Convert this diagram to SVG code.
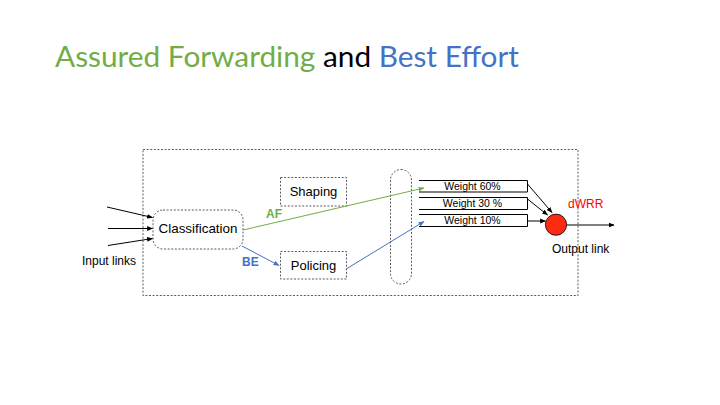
<svg xmlns="http://www.w3.org/2000/svg" width="720" height="405" viewBox="0 0 720 405">
  <style>
    .lbl { font-family: "Liberation Sans", Arial, sans-serif; fill: #000; }
    .dash { fill: #fff; stroke: #333; stroke-width: 0.8; stroke-dasharray: 2 1.6; }
    .wbox { fill: #fff; stroke: #000; stroke-width: 1; }
    .blk { stroke: #000; stroke-width: 1; fill: none; }
    .af { stroke: #70AD47; stroke-width: 1; fill: none; }
    .be { stroke: #4472C4; stroke-width: 1; fill: none; }
  </style>
  <defs>
    <marker id="ahBlack" viewBox="0 0 10 10" refX="9" refY="5" markerWidth="6" markerHeight="6" orient="auto" markerUnits="userSpaceOnUse">
      <path d="M0,1 L10,5 L0,9 Z" fill="#000"/>
    </marker>
    <marker id="ahGreen" viewBox="0 0 10 10" refX="9" refY="5" markerWidth="6" markerHeight="6" orient="auto" markerUnits="userSpaceOnUse">
      <path d="M0,1 L10,5 L0,9 Z" fill="#70AD47"/>
    </marker>
    <marker id="ahBlue" viewBox="0 0 10 10" refX="9" refY="5" markerWidth="6" markerHeight="6" orient="auto" markerUnits="userSpaceOnUse">
      <path d="M0,1 L10,5 L0,9 Z" fill="#4472C4"/>
    </marker>
  </defs>

  <rect width="720" height="405" fill="#fff"/>

  <!-- Title -->
  <text x="55" y="67" font-family="Lato, 'Open Sans', sans-serif" font-size="29" textLength="464" lengthAdjust="spacingAndGlyphs"><tspan fill="#70AD47">Assured Forwarding</tspan><tspan fill="#000"> and </tspan><tspan fill="#4472C4">Best Effort</tspan></text>

  <!-- Router boundary -->
  <g id="router">
    <rect x="143" y="149.5" width="435" height="146" fill="none" stroke="#333" stroke-width="0.8" stroke-dasharray="2 1.6"/>
  </g>

  <g id="classification">
    <rect class="dash" x="153" y="210" width="90" height="39" rx="10"/>
    <text class="lbl" x="198" y="232.5" font-size="13.4" text-anchor="middle">Classification</text>
  </g>

  <g id="shaping">
    <rect class="dash" x="280.5" y="177.5" width="66" height="28.5"/>
    <text class="lbl" x="313.5" y="196" font-size="13" text-anchor="middle">Shaping</text>
  </g>

  <g id="policing">
    <rect class="dash" x="280.5" y="251.5" width="66" height="27.5"/>
    <text class="lbl" x="313.5" y="270" font-size="13" text-anchor="middle">Policing</text>
  </g>

  <g id="buffer">
    <rect class="dash" x="390.5" y="169.5" width="21" height="114.5" rx="10.5"/>
  </g>

  <g id="queue60">
    <path class="wbox" d="M419,180.5 H527.5 V192 H419"/>
    <text class="lbl" x="472.5" y="189.5" font-size="10.5" text-anchor="middle">Weight 60%</text>
  </g>
  <g id="queue30">
    <path class="wbox" d="M419,197.5 H527.5 V209.5 H419"/>
    <text class="lbl" x="472.5" y="206.5" font-size="10.5" text-anchor="middle">Weight 30 %</text>
  </g>
  <g id="queue10">
    <path class="wbox" d="M419,214.5 H527.5 V226.5 H419"/>
    <text class="lbl" x="472.5" y="223.5" font-size="10.5" text-anchor="middle">Weight 10%</text>
  </g>

  <g id="scheduler">
    <circle cx="556" cy="224.7" r="10.6" fill="#FF2A12" stroke="#000" stroke-width="0.8"/>
    <text x="568" y="208" font-family="'Liberation Sans', Arial, sans-serif" font-size="12" fill="#FF0000">dWRR</text>
  </g>

  <!-- Free labels -->
  <text class="lbl" x="82" y="265" font-size="12">Input links</text>
  <text class="lbl" x="552" y="253" font-size="12">Output link</text>
  <text x="266" y="217.5" font-family="'Liberation Sans', Arial, sans-serif" font-size="12" font-weight="bold" fill="#70AD47">AF</text>
  <text x="242" y="266" font-family="'Liberation Sans', Arial, sans-serif" font-size="12" font-weight="bold" fill="#4472C4">BE</text>

  <!-- Connectors -->
  <g id="connectors">
    <line class="blk" x1="107" y1="207" x2="152.5" y2="217.5" marker-end="url(#ahBlack)"/>
    <line class="blk" x1="108" y1="228.5" x2="152.5" y2="228.5" marker-end="url(#ahBlack)"/>
    <line class="blk" x1="108" y1="245.5" x2="152.5" y2="238.5" marker-end="url(#ahBlack)"/>
    <line class="af" x1="243" y1="230" x2="424" y2="188" marker-end="url(#ahGreen)"/>
    <line class="be" x1="242" y1="246" x2="279" y2="265.5" marker-end="url(#ahBlue)"/>
    <line class="be" x1="347" y1="268.5" x2="424" y2="221.5" marker-end="url(#ahBlue)"/>
    <line class="blk" x1="527.5" y1="184" x2="552" y2="212.5" marker-end="url(#ahBlack)"/>
    <line class="blk" x1="527.5" y1="199" x2="547.5" y2="215" marker-end="url(#ahBlack)"/>
    <line class="blk" x1="527.5" y1="221" x2="545.5" y2="221" marker-end="url(#ahBlack)"/>
    <line class="blk" x1="566.6" y1="225" x2="614" y2="225" marker-end="url(#ahBlack)"/>
  </g>
</svg>
